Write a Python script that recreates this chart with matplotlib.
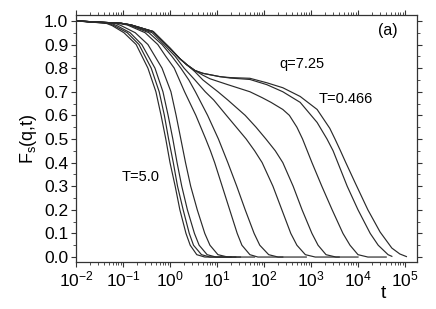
import numpy as np
import matplotlib
matplotlib.use("Agg")
import matplotlib.pyplot as plt
from matplotlib.ticker import LogLocator, FixedLocator, MultipleLocator, FormatStrFormatter

plt.rcParams['font.family'] = ['Liberation Sans', 'DejaVu Sans']
plt.rcParams['mathtext.fontset'] = 'custom'
plt.rcParams['mathtext.rm'] = 'Liberation Sans'
plt.rcParams['mathtext.it'] = 'Liberation Sans:italic'
plt.rcParams['mathtext.default'] = 'regular'

# Temperatures (left to right)
temperatures = [5.0, 4.0, 3.0, 2.0, 1.0, 0.8, 0.6, 0.55, 0.5, 0.475, 0.466]

# log10(t) and F_s(q,t), one pair of lists per temperature
logt_T5 = [-2.0, -1.36, -1.23, -0.98, -0.72, -0.47, -0.30, -0.19, -0.09, 0.00, 0.11, 0.21, 0.34, 0.43, 0.57, 0.74, 1.30]
F_T5 = [1.0, 0.99, 0.98, 0.95, 0.90, 0.80, 0.70, 0.60, 0.50, 0.40, 0.30, 0.20, 0.10, 0.05, 0.01, 0.0, 0.0]

logt_T4 = [-2.0, -1.32, -1.19, -0.91, -0.66, -0.40, -0.23, -0.12, -0.03, 0.07, 0.16, 0.28, 0.41, 0.50, 0.67, 0.85, 1.40]
F_T4 = [1.0, 0.99, 0.98, 0.95, 0.90, 0.80, 0.70, 0.60, 0.50, 0.40, 0.30, 0.20, 0.10, 0.05, 0.01, 0.0, 0.0]

logt_T3 = [-2.0, -1.26, -1.13, -0.85, -0.60, -0.32, -0.15, -0.04, 0.06, 0.15, 0.25, 0.37, 0.52, 0.62, 0.79, 0.98, 1.50]
F_T3 = [1.0, 0.99, 0.98, 0.95, 0.90, 0.80, 0.70, 0.60, 0.50, 0.40, 0.30, 0.20, 0.10, 0.05, 0.01, 0.0, 0.0]

logt_T2 = [-2.0, -1.17, -1.04, -0.74, -0.47, -0.17, 0.02, 0.13, 0.23, 0.33, 0.44, 0.58, 0.74, 0.85, 1.02, 1.23, 1.80]
F_T2 = [1.0, 0.99, 0.98, 0.95, 0.90, 0.80, 0.70, 0.60, 0.50, 0.40, 0.30, 0.20, 0.10, 0.05, 0.01, 0.0, 0.0]

logt_T1 = [-2.0, -1.11, -0.91, -0.53, -0.26, -0.09, 0.09, 0.20, 0.31, 0.55, 0.76, 0.86, 0.95, 1.11, 1.27, 1.43, 1.53, 1.70, 1.87, 2.40]
F_T1 = [1.0, 0.99, 0.983, 0.95, 0.90, 0.85, 0.80, 0.75, 0.70, 0.60, 0.50, 0.45, 0.40, 0.30, 0.20, 0.10, 0.05, 0.01, 0.0, 0.0]

logt_T08 = [-2.0, -1.06, -0.87, -0.45, -0.17, 0.04, 0.23, 0.40, 0.54, 0.80, 1.03, 1.13, 1.23, 1.42, 1.60, 1.79, 1.91, 2.10, 2.30, 2.90]
F_T08 = [1.0, 0.99, 0.983, 0.95, 0.90, 0.85, 0.80, 0.75, 0.70, 0.60, 0.50, 0.45, 0.40, 0.30, 0.20, 0.10, 0.05, 0.01, 0.0, 0.0]

logt_T06 = [-2.0, -1.04, -0.85, -0.38, -0.13, 0.11, 0.30, 0.53, 0.75, 0.93, 1.20, 1.62, 1.80, 1.96, 2.19, 2.38, 2.57, 2.70, 2.88, 3.09, 3.60]
F_T06 = [1.0, 0.99, 0.983, 0.95, 0.90, 0.85, 0.80, 0.75, 0.70, 0.665, 0.60, 0.50, 0.45, 0.40, 0.30, 0.20, 0.10, 0.05, 0.01, 0.0, 0.0]

logt_T055 = [-2.0, -1.04, -0.83, -0.36, 0.00, 0.21, 0.36, 0.53, 0.70, 1.02, 1.23, 1.60, 1.83, 2.04, 2.24, 2.40, 2.62, 2.81, 3.02, 3.15, 3.32, 3.53, 4.00]
F_T055 = [1.0, 0.99, 0.983, 0.955, 0.884, 0.84, 0.814, 0.785, 0.75, 0.70, 0.665, 0.60, 0.55, 0.50, 0.45, 0.40, 0.30, 0.20, 0.10, 0.05, 0.01, 0.0, 0.0]

logt_T05 = [-2.0, -1.04, -0.83, -0.36, 0.00, 0.21, 0.36, 0.53, 0.70, 0.85, 1.23, 1.70, 1.96, 2.15, 2.40, 2.54, 2.70, 2.82, 2.92, 3.02, 3.23, 3.45, 3.68, 3.83, 4.00, 4.21, 4.60]
F_T05 = [1.0, 0.99, 0.983, 0.955, 0.884, 0.84, 0.814, 0.79, 0.77, 0.755, 0.73, 0.70, 0.675, 0.655, 0.625, 0.60, 0.55, 0.50, 0.45, 0.40, 0.30, 0.20, 0.10, 0.05, 0.01, 0.0, 0.0]

logt_T0475 = [-2.0, -1.04, -0.83, -0.36, 0.00, 0.21, 0.36, 0.53, 0.70, 1.06, 1.28, 1.70, 2.06, 2.40, 2.77, 3.13, 3.34, 3.47, 3.57, 3.77, 4.00, 4.26, 4.43, 4.64, 4.72]
F_T0475 = [1.0, 0.99, 0.983, 0.955, 0.884, 0.84, 0.814, 0.79, 0.778, 0.764, 0.758, 0.752, 0.73, 0.70, 0.655, 0.57, 0.50, 0.45, 0.40, 0.30, 0.20, 0.10, 0.05, 0.01, 0.003]

logt_T0466 = [-2.0, -1.04, -0.83, -0.36, 0.00, 0.21, 0.36, 0.53, 0.70, 1.06, 1.28, 1.70, 2.06, 2.40, 2.77, 3.13, 3.40, 3.51, 3.62, 3.74, 3.94, 4.21, 4.47, 4.72, 4.89, 5.03]
F_T0466 = [1.0, 0.99, 0.983, 0.955, 0.884, 0.84, 0.814, 0.79, 0.778, 0.764, 0.76, 0.757, 0.738, 0.717, 0.68, 0.625, 0.545, 0.50, 0.453, 0.40, 0.314, 0.20, 0.106, 0.038, 0.013, 0.002]

curves = [
    (logt_T5, F_T5), (logt_T4, F_T4), (logt_T3, F_T3), (logt_T2, F_T2),
    (logt_T1, F_T1), (logt_T08, F_T08), (logt_T06, F_T06), (logt_T055, F_T055),
    (logt_T05, F_T05), (logt_T0475, F_T0475), (logt_T0466, F_T0466),
]

x_ticks = [1e-2, 1e-1, 1e0, 1e1, 1e2, 1e3, 1e4, 1e5]
y_ticks = [0.0, 0.1, 0.2, 0.3, 0.4, 0.5, 0.6, 0.7, 0.8, 0.9, 1.0]

fig = plt.figure(figsize=(4.36, 3.09), dpi=100)
ax = fig.add_axes([76/436, 47/309, (417-76)/436, (262-15)/309])

for lt, F in curves:
    t = 10.0 ** np.array(lt)
    ax.plot(t, F, color='#2a2a2a', lw=0.85, solid_joinstyle='round')

ax.set_xscale('log')
ax.set_xlim(1e-2, 1.8e5)
ax.set_ylim(-0.021, 1.025)

ax.xaxis.set_major_locator(FixedLocator(x_ticks))
ax.xaxis.set_minor_locator(LogLocator(base=10, subs=np.arange(2, 10), numticks=20))
ax.yaxis.set_major_locator(FixedLocator(y_ticks))
ax.yaxis.set_minor_locator(MultipleLocator(0.05))
ax.yaxis.set_major_formatter(FormatStrFormatter('%.1f'))

ax.tick_params(which='both', direction='out', top=True, right=True, labeltop=False, labelright=False, color='#333333')
ax.tick_params(which='major', length=3.5, width=0.8, labelsize=12.5, pad=2)
ax.tick_params(which='minor', length=2, width=0.6)
for s in ax.spines.values():
    s.set_linewidth(0.9)
    s.set_color('#333333')

ax.set_ylabel(r'F$_\mathregular{s}$(q,t)', fontsize=13, labelpad=4)
fig.text(383/436, 1 - 293/309, 't', fontsize=14, ha='center', va='center')

ax.text(388/436, 1 - 31/309, '(a)', transform=fig.transFigure, fontsize=11.5, ha='center', va='center')
ax.text(302/436, 1 - 64/309, 'q=7.25', transform=fig.transFigure, fontsize=10.5, ha='center', va='center')
ax.text(346/436, 1 - 99/309, 'T=0.466', transform=fig.transFigure, fontsize=10.5, ha='center', va='center')
ax.text(141/436, 1 - 177/309, 'T=5.0', transform=fig.transFigure, fontsize=10.5, ha='center', va='center')

fig.savefig('out.png', dpi=100)
